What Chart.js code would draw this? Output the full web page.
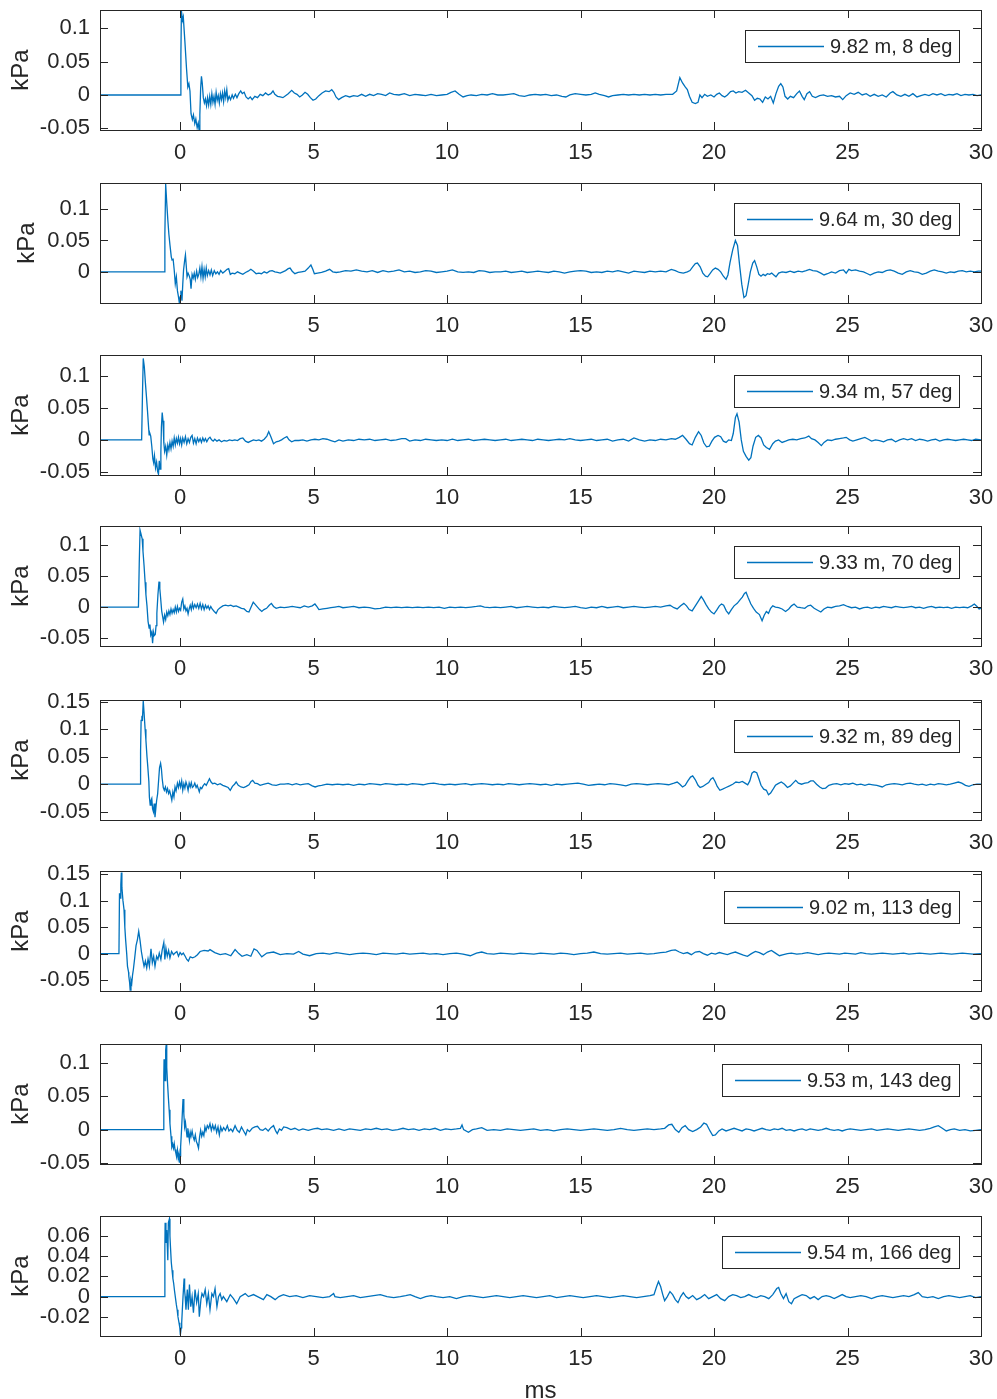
<!DOCTYPE html>
<html>
<head>
<meta charset="utf-8">
<title>Pressure traces</title>
<script src="https://cdn.jsdelivr.net/npm/chart.js@4.4.1/dist/chart.umd.min.js"></script>
<style>
  html, body { margin: 0; padding: 0; background: #fff; }
  body { position: relative; width: 997px; height: 1399px; overflow: hidden; }
  canvas { position: absolute; left: 0; }
</style>
</head>
<body>
<script>
// sensor names (distance, angle)
const sensorLabels = ['9.82 m, 8 deg', '9.64 m, 30 deg', '9.34 m, 57 deg', '9.33 m, 70 deg',
  '9.32 m, 89 deg', '9.02 m, 113 deg', '9.53 m, 143 deg', '9.54 m, 166 deg'];

const xTicks = [0, 5, 10, 15, 20, 25, 30];
const xRange = [-3, 30];

const yTicks = [
  [-0.05, 0, 0.05, 0.1],
  [0, 0.05, 0.1],
  [-0.05, 0, 0.05, 0.1],
  [-0.05, 0, 0.05, 0.1],
  [-0.05, 0, 0.05, 0.1, 0.15],
  [-0.05, 0, 0.05, 0.1, 0.15],
  [-0.05, 0, 0.05, 0.1],
  [-0.02, 0, 0.02, 0.04, 0.06]
];
const yLimits = [
  [-0.0525, 0.1274], [-0.0497, 0.1417], [-0.0552, 0.1334], [-0.0627, 0.1307],
  [-0.065, 0.153], [-0.0706, 0.156], [-0.0518, 0.129], [-0.039, 0.0798]
];

// [ms, kPa]
const p8deg = [
  [-3,0],[0,0],[0.03,0.06],[0.05,0.126],[0.09,0.112],[0.12,0.117],[0.18,0.08],[0.24,0.04],[0.29,0.012],[0.33,0.017],
  [0.37,0.006],[0.41,-0.028],[0.46,-0.037],[0.5,-0.03],[0.55,-0.043],[0.59,-0.036],[0.64,-0.049],[0.68,-0.042],[0.71,-0.052],[0.74,-0.03],
  [0.77,0.01],[0.8,0.028],[0.83,0.018],[0.87,-0.004],[0.91,-0.012],[0.95,-0.006],[0.99,-0.016],[1.03,-0.004],[1.07,-0.015],[1.11,-0.002],
  [1.15,-0.014],[1.19,0.002],[1.23,-0.011],[1.27,-0.002],[1.31,-0.014],[1.35,0.004],[1.39,-0.008],[1.43,-0.001],[1.47,-0.012],[1.51,0.002],
  [1.55,-0.007],[1.59,0.003],[1.63,-0.01],[1.67,0.006],[1.71,-0.004],[1.75,0.008],[1.79,-0.008],[1.84,-0.002],[1.89,-0.007],[1.95,0],
  [2,-0.005],[2.07,0.001],[2.13,-0.004],[2.2,0.002],[2.27,0.006],[2.33,0.002],[2.4,0.004],[2.47,-0.003],[2.55,-0.006],[2.63,-0.003],
  [2.7,-0.007],[2.8,-0.002],[2.9,-0.004],[3,0.001],[3.1,-0.001],[3.2,0.003],[3.3,0],[3.4,0.002],[3.48,0.006],[3.55,0.001],
  [3.65,-0.002],[3.75,-0.003],[3.85,-0.004],[3.95,-0.001],[4.05,0.002],[4.18,0.007],[4.28,0.003],[4.38,0.001],[4.48,-0.003],[4.58,0],
  [4.68,0.004],[4.78,0.001],[4.88,-0.004],[4.98,-0.008],[5.08,-0.006],[5.2,-0.001],[5.32,0.003],[5.45,0.006],[5.58,0.005],[5.68,0.008],
  [5.76,0.004],[5.84,-0.003],[5.94,-0.007],[6.05,-0.004],[6.2,-0.001],[6.35,-0.003],[6.5,-0.001],[6.65,-0.002],[6.8,0.001],[6.95,-0.002],
  [7.1,0.001],[7.25,-0.001],[7.4,0.002],[7.55,0.001],[7.7,-0.001],[7.85,0.003],[8,0.001],[8.2,0],[8.4,0.002],[8.6,-0.001],
  [8.8,0.001],[9,0],[9.2,-0.001],[9.4,0.001],[9.6,-0.001],[9.8,0],[10,0.001],[10.15,0.004],[10.3,0.006],[10.45,0.001],
  [10.6,-0.003],[10.75,-0.001],[10.9,0],[11.1,-0.001],[11.3,0.001],[11.5,0],[11.7,0.002],[11.9,0],[12.1,0],[12.3,0.001],
  [12.5,0.002],[12.7,-0.001],[12.9,-0.002],[13.1,0],[13.3,0.001],[13.5,0],[13.7,0.001],[13.9,-0.001],[14.1,0],[14.3,-0.002],
  [14.45,-0.003],[14.6,0],[14.8,0.002],[15,0.001],[15.2,0],[15.4,0.001],[15.55,0.003],[15.7,0.001],[15.9,-0.001],[16.05,-0.003],
  [16.2,-0.001],[16.4,0],[16.6,0.001],[16.8,0],[17,0.001],[17.2,0],[17.4,0.001],[17.6,0],[17.8,0.001],[18,0],
  [18.2,0.001],[18.45,0.001],[18.6,0.006],[18.72,0.026],[18.82,0.018],[18.92,0.012],[19,0.008],[19.08,-0.002],[19.18,-0.011],[19.3,-0.013],
  [19.4,-0.011],[19.47,0],[19.55,-0.004],[19.65,0.001],[19.75,-0.002],[19.88,0],[20,-0.003],[20.1,0.001],[20.2,0.003],[20.3,-0.001],
  [20.4,-0.003],[20.5,0],[20.62,0.005],[20.72,0.006],[20.82,0.003],[20.92,0.005],[21.05,0.004],[21.18,0.007],[21.3,0.003],[21.42,-0.001],
  [21.52,-0.008],[21.62,-0.005],[21.72,-0.006],[21.82,-0.011],[21.92,-0.003],[22.02,-0.006],[22.12,-0.002],[22.22,-0.012],[22.32,0.002],[22.42,0.013],
  [22.5,0.017],[22.58,0.012],[22.66,-0.002],[22.76,-0.006],[22.86,-0.002],[22.98,-0.004],[23.1,0.002],[23.2,0.006],[23.3,-0.002],[23.38,-0.007],
  [23.48,0.002],[23.58,0.005],[23.68,-0.002],[23.8,-0.004],[23.95,-0.001],[24.1,0],[24.25,-0.002],[24.4,-0.001],[24.55,-0.003],[24.7,-0.002],
  [24.82,-0.007],[24.95,-0.001],[25.1,0.003],[25.25,0.001],[25.4,0.004],[25.55,0],[25.7,0.002],[25.85,-0.002],[26,0.001],[26.15,-0.002],
  [26.3,0],[26.45,-0.003],[26.6,0.003],[26.7,0.005],[26.85,0],[27,-0.002],[27.15,0.001],[27.3,-0.002],[27.45,0.002],[27.6,-0.003],
  [27.75,-0.001],[27.9,0.001],[28.05,-0.001],[28.2,0.002],[28.35,0],[28.5,0.002],[28.65,-0.001],[28.8,0.001],[28.95,0],[29.1,0.002],
  [29.25,-0.001],[29.4,0.001],[29.55,0],[29.7,0.001],[29.85,-0.001],[30,0]
];

const p30deg = [
  [-3,0],[-0.6,0],[-0.57,0.06],[-0.54,0.14],[-0.5,0.11],[-0.46,0.083],[-0.42,0.06],[-0.38,0.043],[-0.33,0.024],[-0.3,0.019],
  [-0.26,0.02],[-0.22,0.003],[-0.18,-0.019],[-0.14,-0.008],[-0.1,-0.03],[-0.06,-0.04],[-0.03,-0.049],[0,-0.04],[0.03,-0.03],[0.07,-0.046],
  [0.1,-0.02],[0.13,0.003],[0.17,0.018],[0.2,0.027],[0.23,0.01],[0.26,-0.008],[0.3,-0.002],[0.34,-0.006],[0.38,-0.012],[0.41,-0.027],
  [0.45,-0.004],[0.49,-0.01],[0.53,-0.002],[0.57,-0.012],[0.62,0.001],[0.66,-0.009],[0.7,-0.004],[0.74,0.006],[0.78,-0.008],[0.82,0.008],
  [0.86,-0.01],[0.9,0.004],[0.94,-0.008],[0.98,0.006],[1.02,-0.006],[1.07,0.002],[1.12,-0.005],[1.17,0.003],[1.22,-0.006],[1.28,0.002],
  [1.34,-0.003],[1.4,0],[1.46,-0.004],[1.52,0.002],[1.6,-0.002],[1.68,0.001],[1.76,0.004],[1.82,0.005],[1.88,-0.004],[1.95,-0.002],
  [2.05,-0.003],[2.15,0],[2.25,-0.002],[2.35,-0.004],[2.45,-0.001],[2.55,0.001],[2.65,0.004],[2.75,0.001],[2.85,-0.003],[2.95,-0.002],
  [3.05,-0.003],[3.15,0],[3.25,-0.002],[3.35,0.001],[3.45,0.002],[3.55,0],[3.65,-0.001],[3.75,-0.002],[3.85,0],[3.95,0.002],
  [4.05,0.005],[4.12,0.006],[4.2,0.001],[4.3,-0.003],[4.42,-0.001],[4.55,0],[4.68,0.001],[4.8,0.006],[4.9,0.011],[4.97,0.004],
  [5.03,-0.003],[5.15,-0.002],[5.3,-0.001],[5.45,0.001],[5.6,0.004],[5.72,0],[5.85,-0.001],[6,0],[6.2,0.002],[6.4,0.001],
  [6.6,0.003],[6.8,0.001],[7,0],[7.2,0.002],[7.4,-0.001],[7.6,0.002],[7.8,0],[8,0.001],[8.2,0.003],[8.4,0],
  [8.6,0.001],[8.8,-0.001],[9,0],[9.2,0.002],[9.4,0.001],[9.6,-0.001],[9.8,0],[10,0.001],[10.2,0.003],[10.4,0],
  [10.6,-0.001],[10.8,0],[11,-0.001],[11.2,0.002],[11.4,0.001],[11.6,-0.001],[11.8,0],[12,0],[12.2,0.001],[12.4,-0.001],
  [12.6,0],[12.8,0.001],[13,-0.001],[13.2,0],[13.4,0.001],[13.6,0],[13.8,-0.001],[14,0.001],[14.2,0],[14.4,-0.002],
  [14.6,0],[14.8,0.001],[15,0.002],[15.2,0.001],[15.4,-0.001],[15.6,0],[15.8,-0.001],[16,0.001],[16.2,0],[16.4,0.002],
  [16.6,0],[16.8,-0.002],[17,0.001],[17.2,0],[17.4,-0.001],[17.6,0.001],[17.8,0],[18,0.001],[18.2,0],[18.4,0.004],
  [18.55,0.002],[18.7,-0.001],[18.85,-0.002],[19,0],[19.1,0.002],[19.2,0.008],[19.3,0.013],[19.38,0.014],[19.48,0.008],[19.58,-0.002],
  [19.68,-0.007],[19.76,-0.008],[19.85,-0.003],[19.95,0.003],[20.05,0.006],[20.15,0.004],[20.25,0],[20.35,-0.007],[20.45,-0.012],[20.52,-0.005],
  [20.6,0.015],[20.7,0.035],[20.8,0.05],[20.88,0.042],[20.96,0.01],[21.04,-0.02],[21.12,-0.041],[21.2,-0.038],[21.28,-0.02],[21.36,0],
  [21.45,0.014],[21.52,0.018],[21.6,0.008],[21.68,-0.004],[21.76,-0.007],[21.84,-0.004],[21.92,-0.006],[22,-0.003],[22.08,-0.004],[22.16,-0.002],
  [22.24,-0.005],[22.32,-0.008],[22.42,-0.002],[22.55,0],[22.7,-0.001],[22.85,0.001],[23,-0.001],[23.15,0.001],[23.3,0],[23.45,0.002],
  [23.58,0.004],[23.7,0.002],[23.85,0.001],[24,-0.002],[24.12,-0.005],[24.25,-0.003],[24.4,0],[24.55,-0.002],[24.7,0.002],[24.85,0.003],
  [24.95,-0.002],[25.05,0.004],[25.15,0.002],[25.3,0.003],[25.45,0.001],[25.6,0],[25.75,-0.003],[25.85,-0.005],[26,-0.002],[26.15,0],
  [26.3,-0.001],[26.45,0.002],[26.6,0.003],[26.75,0.001],[26.9,-0.002],[27.05,-0.004],[27.2,0],[27.35,0.002],[27.5,0],[27.65,-0.001],
  [27.8,-0.004],[27.95,-0.002],[28.1,0.001],[28.25,0.003],[28.4,0.001],[28.55,0],[28.7,-0.002],[28.85,0],[29,-0.001],[29.15,0.001],
  [29.3,0.002],[29.45,0],[29.6,0.001],[29.75,0],[29.9,0.001],[30,0.001]
];

const p57deg = [
  [-3,0],[-1.44,0],[-1.41,0.07],[-1.38,0.128],[-1.34,0.115],[-1.3,0.09],[-1.26,0.068],[-1.22,0.045],[-1.19,0.026],[-1.16,0.008],
  [-1.13,0.01],[-1.1,0.006],[-1.06,-0.01],[-1.02,-0.03],[-0.99,-0.036],[-0.96,-0.025],[-0.92,-0.044],[-0.88,-0.035],[-0.84,-0.05],[-0.81,-0.054],
  [-0.78,-0.033],[-0.75,-0.046],[-0.72,-0.02],[-0.7,0.02],[-0.67,0.043],[-0.64,0.03],[-0.61,-0.004],[-0.58,-0.018],[-0.54,-0.01],[-0.5,-0.024],
  [-0.46,-0.008],[-0.42,-0.016],[-0.38,-0.004],[-0.34,-0.014],[-0.3,-0.002],[-0.26,-0.01],[-0.22,0.003],[-0.18,-0.008],[-0.14,0.002],[-0.1,-0.005],
  [-0.06,0.004],[-0.02,-0.006],[0.02,0.002],[0.06,-0.008],[0.1,0.003],[0.15,-0.004],[0.2,0.005],[0.25,-0.006],[0.3,0.002],[0.35,-0.004],
  [0.4,0.004],[0.45,0.007],[0.5,-0.005],[0.55,0.002],[0.6,-0.006],[0.65,0.003],[0.7,-0.003],[0.75,0.002],[0.8,-0.004],[0.85,0.003],
  [0.9,-0.002],[0.95,0.002],[1,-0.003],[1.06,0.002],[1.12,0.004],[1.18,0],[1.24,-0.002],[1.3,0.001],[1.38,-0.002],[1.46,0],
  [1.55,-0.003],[1.65,-0.001],[1.75,-0.002],[1.85,0],[1.95,-0.001],[2.05,0],[2.15,-0.001],[2.25,0.002],[2.35,0.003],[2.45,-0.002],
  [2.55,-0.004],[2.65,-0.002],[2.75,0],[2.85,-0.001],[2.95,0],[3.05,-0.002],[3.15,0.001],[3.25,0.006],[3.32,0.013],[3.4,0.005],
  [3.5,-0.006],[3.6,-0.003],[3.7,-0.002],[3.8,0],[3.9,0.003],[4,0.005],[4.08,0],[4.18,-0.003],[4.3,-0.001],[4.45,-0.001],
  [4.6,0],[4.75,-0.002],[4.9,0],[5.05,0.001],[5.2,0],[5.35,0.002],[5.5,0.001],[5.65,-0.001],[5.8,-0.003],[5.95,0],
  [6.1,-0.002],[6.3,0],[6.5,-0.001],[6.7,0.001],[6.9,0],[7.1,0.001],[7.3,-0.001],[7.5,0],[7.7,0.001],[7.9,-0.001],
  [8.1,0],[8.3,0.002],[8.45,0.002],[8.6,-0.002],[8.8,0],[9,-0.001],[9.2,0.001],[9.4,0],[9.6,-0.001],[9.8,0],
  [10,-0.001],[10.2,0.001],[10.4,-0.001],[10.6,0],[10.8,0.001],[11,-0.001],[11.2,0],[11.4,0.001],[11.6,0],[11.8,-0.001],
  [12,0],[12.2,0.001],[12.4,-0.001],[12.6,0],[12.8,0.001],[13,0],[13.2,-0.001],[13.4,0.001],[13.6,0],[13.8,-0.001],
  [14,0],[14.2,0.001],[14.4,0],[14.6,0.002],[14.8,0],[15,-0.001],[15.2,0],[15.4,0.001],[15.6,-0.001],[15.8,0],
  [16,0.001],[16.2,-0.002],[16.4,0],[16.6,0.001],[16.8,-0.002],[17,0.003],[17.2,0],[17.4,-0.002],[17.6,0],[17.8,-0.001],
  [18,0.001],[18.2,0],[18.4,0.002],[18.55,0.001],[18.7,0.004],[18.82,0.007],[18.95,0.001],[19.08,-0.006],[19.18,-0.008],[19.3,0.004],
  [19.42,0.013],[19.52,0.007],[19.62,-0.005],[19.72,-0.011],[19.82,-0.01],[19.92,-0.002],[20.02,0.004],[20.15,0.007],[20.25,0.005],[20.35,-0.002],
  [20.45,-0.004],[20.55,0],[20.65,-0.001],[20.72,0.01],[20.8,0.035],[20.86,0.041],[20.94,0.028],[21.02,0],[21.1,-0.018],[21.2,-0.026],
  [21.3,-0.032],[21.38,-0.028],[21.46,-0.01],[21.56,0.004],[21.66,0.007],[21.76,0.003],[21.86,-0.008],[21.96,-0.012],[22.08,-0.015],[22.2,-0.006],
  [22.3,-0.002],[22.42,0],[22.55,-0.004],[22.68,-0.002],[22.8,0],[22.95,0.001],[23.1,0],[23.25,0.002],[23.4,0.003],[23.55,0.006],
  [23.65,0.002],[23.78,0],[23.9,-0.004],[24.02,-0.009],[24.12,-0.004],[24.25,0],[24.4,-0.001],[24.55,0.001],[24.7,0.002],[24.85,0.003],
  [24.95,0.004],[25.08,0],[25.2,-0.002],[25.35,0],[25.5,0.002],[25.65,0.004],[25.78,0.001],[25.9,-0.002],[26.05,0],[26.2,-0.001],
  [26.35,-0.003],[26.5,0],[26.65,0.001],[26.8,-0.003],[26.95,0],[27.1,0.002],[27.25,0],[27.4,0.002],[27.55,-0.001],[27.7,0.001],
  [27.85,0],[28,-0.002],[28.15,0],[28.3,0.001],[28.45,-0.002],[28.6,0],[28.75,0.001],[28.9,0],[29.05,-0.001],[29.2,0],
  [29.35,0.001],[29.5,0],[29.65,-0.001],[29.8,0.001],[30,0]
];

const p70deg = [
  [-3,0],[-1.56,0],[-1.53,0.07],[-1.5,0.124],[-1.46,0.117],[-1.42,0.11],[-1.39,0.09],[-1.35,0.067],[-1.31,0.04],[-1.28,0.02],
  [-1.24,0.002],[-1.2,-0.023],[-1.16,-0.034],[-1.13,-0.028],[-1.1,-0.045],[-1.06,-0.04],[-1.03,-0.058],[-1,-0.04],[-0.97,-0.046],[-0.93,-0.044],
  [-0.9,-0.03],[-0.87,-0.01],[-0.83,0.02],[-0.79,0.041],[-0.76,0.03],[-0.73,0.015],[-0.69,-0.006],[-0.65,-0.016],[-0.62,-0.024],[-0.58,-0.013],
  [-0.54,-0.02],[-0.5,-0.008],[-0.46,-0.014],[-0.42,-0.006],[-0.38,-0.012],[-0.34,-0.003],[-0.3,-0.01],[-0.26,-0.004],[-0.22,-0.009],[-0.18,0],
  [-0.14,-0.008],[-0.1,0.001],[-0.06,-0.007],[-0.02,-0.002],[0.02,-0.005],[0.06,0.008],[0.1,0.013],[0.14,-0.003],[0.18,0.002],[0.22,-0.006],
  [0.26,-0.002],[0.3,-0.011],[0.34,-0.003],[0.38,0.003],[0.42,-0.004],[0.46,0.006],[0.5,-0.002],[0.55,0.004],[0.6,-0.001],[0.65,0.005],
  [0.7,-0.002],[0.75,0.006],[0.8,-0.003],[0.85,0.004],[0.9,-0.004],[0.95,0.003],[1,-0.002],[1.05,0.002],[1.1,-0.004],[1.15,0.001],
  [1.2,-0.003],[1.28,-0.007],[1.35,-0.01],[1.42,-0.004],[1.5,-0.001],[1.6,0.002],[1.7,0.003],[1.8,0.002],[1.9,0.003],[2,0.001],
  [2.1,0.002],[2.2,0],[2.3,-0.002],[2.4,-0.003],[2.5,-0.007],[2.58,-0.008],[2.66,0],[2.74,0.008],[2.82,0.004],[2.9,0],
  [2.98,-0.004],[3.06,-0.007],[3.14,-0.004],[3.24,-0.002],[3.34,0.003],[3.42,0.006],[3.5,0.001],[3.6,-0.002],[3.75,0],[3.9,-0.001],
  [4.05,0],[4.2,0.001],[4.35,0],[4.5,-0.001],[4.65,0.002],[4.8,0],[4.95,0.002],[5.05,0.005],[5.12,0.001],[5.2,-0.004],
  [5.35,-0.003],[5.5,-0.002],[5.65,-0.001],[5.8,0],[5.95,0.001],[6.1,-0.001],[6.3,0],[6.5,0.001],[6.7,-0.001],[6.9,0],
  [7.1,-0.001],[7.3,-0.003],[7.5,-0.002],[7.7,0],[7.9,-0.001],[8.1,0],[8.3,-0.001],[8.5,0],[8.7,-0.001],[8.9,0],
  [9.1,-0.001],[9.3,0],[9.5,-0.001],[9.7,0],[9.9,-0.002],[10.1,0],[10.3,-0.001],[10.5,0],[10.7,-0.001],[10.9,0],
  [11.1,0.001],[11.25,0.002],[11.4,0],[11.6,-0.001],[11.8,0],[12,-0.001],[12.2,0],[12.4,0.001],[12.6,-0.001],[12.8,0],
  [13,0.001],[13.2,0],[13.4,-0.001],[13.6,0],[13.8,-0.001],[14,0.001],[14.2,0],[14.4,-0.001],[14.6,0],[14.8,0.001],
  [15,-0.001],[15.2,-0.002],[15.4,0],[15.6,-0.001],[15.8,0.001],[16,-0.001],[16.2,0],[16.4,0.001],[16.6,-0.001],[16.8,0],
  [17,0.001],[17.2,0],[17.4,-0.001],[17.6,0],[17.8,0.001],[18,0],[18.2,0.002],[18.35,0.003],[18.5,-0.001],[18.62,-0.003],
  [18.75,0.002],[18.87,0.006],[18.97,0.002],[19.07,-0.004],[19.18,-0.006],[19.3,0.002],[19.42,0.01],[19.52,0.017],[19.6,0.012],[19.7,0.004],
  [19.8,-0.003],[19.9,-0.008],[20,-0.011],[20.1,-0.005],[20.2,0.002],[20.28,0.005],[20.36,0.003],[20.46,-0.006],[20.55,-0.011],[20.65,-0.004],
  [20.75,0.002],[20.87,0.006],[20.98,0.012],[21.06,0.016],[21.14,0.022],[21.2,0.024],[21.28,0.015],[21.38,0.005],[21.48,-0.002],[21.58,-0.008],
  [21.7,-0.012],[21.8,-0.022],[21.88,-0.013],[21.96,-0.007],[22.04,-0.01],[22.12,-0.002],[22.2,0.002],[22.3,0],[22.42,-0.001],[22.55,-0.003],
  [22.68,-0.007],[22.8,-0.003],[22.9,0.002],[23,0.005],[23.12,0],[23.25,-0.001],[23.4,-0.002],[23.52,0.002],[23.62,0.003],[23.75,-0.002],
  [23.88,-0.005],[24,-0.008],[24.12,-0.003],[24.25,0],[24.4,-0.001],[24.55,0.001],[24.7,0.002],[24.85,0.004],[25,0.001],[25.15,-0.001],
  [25.3,0],[25.45,-0.003],[25.6,-0.001],[25.75,0],[25.9,-0.002],[26.05,0],[26.2,-0.001],[26.35,0.001],[26.5,0],[26.65,-0.001],
  [26.8,0.001],[26.95,0],[27.1,-0.001],[27.25,0],[27.4,0.001],[27.55,-0.001],[27.7,0],[27.85,-0.002],[28,0],[28.15,0.001],
  [28.3,-0.001],[28.45,0],[28.6,-0.001],[28.75,0],[28.9,-0.002],[29.05,0],[29.2,-0.001],[29.35,0],[29.5,-0.001],[29.65,0.002],
  [29.75,0.005],[29.85,0.001],[29.93,-0.003],[30,-0.002]
];

const p89deg = [
  [-3,0],[-1.5,0],[-1.48,0.06],[-1.46,0.116],[-1.43,0.12],[-1.41,0.118],[-1.38,0.151],[-1.35,0.13],[-1.31,0.1],[-1.28,0.08],
  [-1.24,0.05],[-1.21,0.032],[-1.17,0.005],[-1.15,-0.023],[-1.12,-0.038],[-1.09,-0.03],[-1.06,-0.026],[-1.03,-0.045],[-1,-0.05],[-0.97,-0.035],
  [-0.94,-0.06],[-0.91,-0.045],[-0.88,-0.03],[-0.84,-0.017],[-0.8,0.01],[-0.77,0.03],[-0.73,0.038],[-0.7,0.028],[-0.67,0.01],[-0.63,-0.006],
  [-0.59,-0.011],[-0.55,-0.005],[-0.51,-0.014],[-0.47,-0.008],[-0.43,-0.017],[-0.39,-0.012],[-0.35,-0.02],[-0.31,-0.029],[-0.27,-0.014],[-0.23,-0.023],
  [-0.19,-0.005],[-0.15,-0.012],[-0.1,0.002],[-0.06,-0.006],[-0.02,0.004],[0.02,-0.005],[0.06,0.006],[0.1,-0.011],[0.14,0.001],[0.18,-0.007],
  [0.22,0.004],[0.26,-0.002],[0.3,-0.011],[0.34,0.002],[0.38,-0.005],[0.42,0.003],[0.46,-0.006],[0.5,-0.004],[0.55,0.002],[0.6,-0.006],
  [0.64,-0.002],[0.68,-0.008],[0.72,-0.014],[0.76,-0.006],[0.81,-0.008],[0.86,-0.003],[0.92,0.001],[0.98,-0.002],[1.04,0.004],[1.1,0.01],
  [1.16,0.004],[1.22,0.001],[1.3,0.002],[1.4,-0.001],[1.5,0.001],[1.6,-0.002],[1.7,-0.004],[1.8,-0.006],[1.88,-0.011],[1.96,-0.004],
  [2.04,0],[2.1,0.004],[2.18,-0.002],[2.28,-0.005],[2.38,-0.006],[2.48,-0.004],[2.58,-0.001],[2.66,0.005],[2.72,0.007],[2.8,0.002],
  [2.9,0.001],[3,-0.002],[3.15,0],[3.3,0.002],[3.45,-0.001],[3.6,-0.002],[3.75,0],[3.9,0],[4.05,0.001],[4.2,-0.001],
  [4.35,0.001],[4.5,-0.001],[4.65,0],[4.8,0.001],[4.95,-0.003],[5.06,-0.005],[5.18,-0.003],[5.3,-0.002],[5.5,0],[5.7,-0.001],
  [5.9,0],[6.1,-0.001],[6.3,0],[6.5,-0.002],[6.7,0],[6.9,-0.001],[7.1,0.001],[7.3,0],[7.5,-0.001],[7.7,0.001],
  [7.9,0],[8.1,-0.001],[8.3,0],[8.5,-0.001],[8.7,0.001],[8.9,0],[9.1,-0.001],[9.3,0.001],[9.5,0.002],[9.7,0],
  [9.9,-0.001],[10.1,0],[10.3,-0.001],[10.5,0],[10.7,0.001],[10.9,-0.001],[11.1,0],[11.3,0.001],[11.5,0],[11.7,-0.001],
  [11.9,0],[12.1,-0.001],[12.3,0.001],[12.5,0],[12.7,-0.001],[12.9,0],[13.1,0.001],[13.3,0],[13.5,-0.001],[13.7,0],
  [13.9,-0.002],[14.1,0],[14.3,-0.001],[14.5,0],[14.7,0.001],[14.9,0.002],[15.1,0],[15.3,-0.002],[15.5,-0.001],[15.7,0],
  [15.9,-0.001],[16.1,0.001],[16.3,0],[16.5,-0.001],[16.7,-0.003],[16.9,0],[17.1,0.001],[17.3,0],[17.5,-0.001],[17.7,0],
  [17.9,0.001],[18.1,0],[18.3,-0.001],[18.5,0.002],[18.62,0.004],[18.72,0],[18.82,-0.005],[18.92,-0.002],[19.02,0.006],[19.12,0.013],
  [19.2,0.015],[19.3,0.008],[19.4,-0.002],[19.48,-0.006],[19.58,-0.004],[19.7,0],[19.8,0.003],[19.88,0.009],[19.96,0.012],[20.04,0.005],
  [20.12,-0.004],[20.22,-0.011],[20.32,-0.009],[20.45,-0.006],[20.58,-0.003],[20.7,0],[20.82,0.004],[20.94,0.003],[21.06,0.005],[21.16,0.002],
  [21.26,-0.001],[21.34,0.006],[21.42,0.02],[21.5,0.023],[21.6,0.021],[21.68,0.01],[21.76,-0.002],[21.86,-0.009],[21.96,-0.011],[22.04,-0.019],
  [22.12,-0.016],[22.2,-0.01],[22.3,-0.002],[22.4,0.001],[22.52,0.004],[22.64,0],[22.75,-0.006],[22.86,-0.003],[22.96,0.002],[23.06,0.007],
  [23.16,0.002],[23.28,0],[23.4,0.002],[23.52,0.003],[23.62,0.006],[23.72,0.006],[23.84,0],[23.96,-0.005],[24.06,-0.008],[24.18,-0.007],
  [24.3,-0.002],[24.45,0],[24.6,0.001],[24.75,-0.001],[24.9,0.001],[25.05,0],[25.2,0.002],[25.35,-0.001],[25.5,0],[25.65,-0.002],
  [25.8,0],[25.95,-0.001],[26.1,-0.002],[26.3,-0.005],[26.45,-0.001],[26.6,0],[26.75,0.001],[26.9,0],[27.05,-0.001],[27.2,0.001],
  [27.35,0.002],[27.5,0],[27.65,-0.001],[27.8,0],[27.95,-0.002],[28.1,0],[28.25,-0.001],[28.4,0.001],[28.55,0],[28.7,-0.001],
  [28.85,0],[29,0.002],[29.15,0.004],[29.28,0.002],[29.42,-0.002],[29.55,-0.004],[29.7,-0.001],[29.85,0],[30,0]
];

const p113deg = [
  [-3,0],[-2.29,0],[-2.27,0.114],[-2.24,0.105],[-2.22,0.13],[-2.2,0.153],[-2.18,0.125],[-2.14,0.1],[-2.1,0.083],[-2.07,0.05],
  [-2.04,0.026],[-2,0],[-1.97,-0.024],[-1.93,-0.035],[-1.92,-0.043],[-1.89,-0.055],[-1.87,-0.069],[-1.84,-0.05],[-1.81,-0.056],[-1.78,-0.04],
  [-1.75,-0.03],[-1.7,-0.008],[-1.65,0.015],[-1.6,0.026],[-1.55,0.042],[-1.5,0.025],[-1.45,0.004],[-1.4,-0.011],[-1.35,-0.024],[-1.3,-0.014],
  [-1.25,-0.027],[-1.2,-0.01],[-1.15,-0.024],[-1.09,0.009],[-1.04,-0.017],[-0.99,-0.005],[-0.94,-0.024],[-0.88,-0.005],[-0.83,-0.011],[-0.78,0.001],
  [-0.72,-0.011],[-0.67,0.007],[-0.61,0.021],[-0.57,-0.011],[-0.53,0.01],[-0.48,-0.005],[-0.43,0.006],[-0.38,-0.008],[-0.32,0.004],[-0.25,-0.002],
  [-0.19,0.001],[-0.12,0.004],[-0.06,-0.005],[0,0.002],[0.06,-0.002],[0.12,0.001],[0.19,-0.005],[0.25,-0.011],[0.31,-0.014],[0.38,-0.006],
  [0.47,-0.008],[0.56,-0.006],[0.65,-0.002],[0.75,0.004],[0.9,0.006],[1.05,0.005],[1.12,0.0075],[1.3,0.002],[1.5,-0.002],[1.7,0],
  [1.9,-0.004],[2.06,0.0075],[2.2,0],[2.32,-0.005],[2.5,-0.002],[2.65,-0.005],[2.77,0.009],[2.88,0.006],[3.06,-0.006],[3.25,0.001],
  [3.5,0.003],[3.75,-0.002],[4,0],[4.25,-0.001],[4.44,0.004],[4.6,-0.001],[4.85,-0.004],[5.1,0],[5.35,0.001],[5.6,-0.001],
  [5.85,0.002],[6.1,0],[6.35,-0.002],[6.6,0],[6.85,0.001],[7.1,0],[7.35,-0.002],[7.6,0.001],[7.85,0],[8.1,-0.001],
  [8.35,0.001],[8.6,-0.001],[8.85,0],[9.1,0.001],[9.35,-0.001],[9.6,0],[9.85,-0.002],[10.1,0],[10.35,0.001],[10.6,-0.001],
  [10.87,-0.004],[11.1,0.001],[11.3,0.003],[11.5,0],[11.75,-0.001],[12,0.001],[12.25,0],[12.5,-0.001],[12.75,0.001],[13,0],
  [13.25,-0.001],[13.5,0.001],[13.75,0],[14,-0.001],[14.25,0.001],[14.5,0],[14.75,-0.002],[15,0],[15.25,0.001],[15.5,0.003],
  [15.75,0],[16,-0.001],[16.25,0],[16.5,0.001],[16.75,-0.001],[17,0],[17.25,0.001],[17.5,-0.001],[17.75,0],[18,0.002],
  [18.2,0.003],[18.4,0.006],[18.55,0.007],[18.7,0.003],[18.85,0],[19,0.002],[19.15,-0.002],[19.3,0.003],[19.45,0.004],[19.6,0],
  [19.75,-0.003],[19.9,0.001],[20.05,-0.001],[20.2,0.002],[20.35,0],[20.5,-0.002],[20.65,0.001],[20.8,0.003],[20.95,0],[21.1,-0.003],
  [21.25,-0.005],[21.4,0],[21.55,0.004],[21.7,0.002],[21.85,-0.002],[22,0.003],[22.15,0.006],[22.3,0.001],[22.45,-0.004],[22.6,-0.002],
  [22.75,0],[22.9,0.001],[23.1,-0.001],[23.3,0],[23.5,0.002],[23.7,0],[23.9,-0.002],[24.1,0],[24.3,0.001],[24.5,0],
  [24.7,-0.001],[24.9,0.001],[25.1,0],[25.3,-0.001],[25.5,0.002],[25.7,0],[25.9,-0.001],[26.1,0],[26.3,0.001],[26.5,0],
  [26.7,-0.001],[26.9,0],[27.1,0.001],[27.3,-0.001],[27.5,0],[27.7,0.001],[27.9,0],[28.1,-0.001],[28.3,0],[28.5,0.001],
  [28.7,0],[28.9,-0.001],[29.1,0],[29.3,0.001],[29.5,0],[29.7,-0.001],[30,0]
];

const p143deg = [
  [-3,0],[-0.63,0],[-0.61,0.08],[-0.6,0.106],[-0.58,0.09],[-0.56,0.074],[-0.54,0.12],[-0.52,0.128],[-0.5,0.094],[-0.47,0.07],
  [-0.44,0.049],[-0.41,0.03],[-0.38,0.009],[-0.34,-0.01],[-0.31,-0.026],[-0.28,-0.022],[-0.25,-0.028],[-0.22,-0.021],[-0.19,-0.03],[-0.16,-0.035],
  [-0.13,-0.041],[-0.1,-0.031],[-0.07,-0.043],[-0.04,-0.036],[-0.02,-0.05],[0,-0.04],[0.02,-0.026],[0.06,0.004],[0.09,0.03],[0.11,0.046],
  [0.14,0.024],[0.17,0.004],[0.2,0.011],[0.23,0],[0.26,-0.011],[0.29,0.002],[0.32,-0.006],[0.35,-0.016],[0.38,-0.004],[0.41,-0.01],
  [0.45,-0.002],[0.49,-0.011],[0.53,-0.016],[0.57,-0.008],[0.61,-0.018],[0.65,-0.022],[0.69,-0.028],[0.73,-0.011],[0.77,-0.001],[0.81,-0.01],
  [0.85,-0.004],[0.89,-0.009],[0.93,0.004],[0.97,-0.002],[1.02,0.006],[1.07,0.002],[1.12,0.009],[1.17,-0.001],[1.22,0.007],[1.27,0],
  [1.32,0.006],[1.37,-0.004],[1.42,0.004],[1.47,-0.008],[1.52,0.004],[1.57,-0.002],[1.63,0.003],[1.7,-0.001],[1.77,0.006],[1.83,-0.002],
  [1.9,0.001],[1.97,-0.003],[2.06,0.006],[2.14,-0.001],[2.22,-0.004],[2.3,0.004],[2.38,-0.002],[2.46,-0.008],[2.52,0],[2.6,-0.003],
  [2.7,0.002],[2.8,0.004],[2.9,0.005],[3,0],[3.1,-0.001],[3.2,0.002],[3.3,-0.002],[3.4,0.003],[3.5,0.006],[3.58,-0.002],
  [3.64,-0.006],[3.72,0.001],[3.8,-0.001],[3.88,0.004],[4,0.003],[4.15,0],[4.3,0.002],[4.45,-0.001],[4.6,0.001],[4.8,-0.001],
  [5,0.001],[5.15,0.002],[5.3,0],[5.5,0.001],[5.75,-0.001],[5.95,0.001],[6.15,-0.001],[6.35,0.001],[6.55,0],[6.75,-0.001],
  [6.95,0.001],[7.15,0],[7.35,0.002],[7.55,0],[7.75,0.001],[7.95,-0.001],[8.15,0],[8.35,0.002],[8.55,0],[8.75,0.001],
  [8.95,-0.001],[9.15,0.001],[9.35,0],[9.55,0.002],[9.75,-0.001],[9.95,0.001],[10.15,0],[10.35,0.001],[10.5,0.002],[10.56,0.007],
  [10.62,0],[10.8,-0.004],[10.95,0],[11.1,0.001],[11.3,0.003],[11.5,-0.001],[11.75,0],[12,-0.001],[12.25,0.001],[12.5,0],
  [12.75,-0.001],[13,0],[13.25,0.001],[13.5,-0.001],[13.75,0],[14,-0.002],[14.25,0],[14.5,0.001],[14.75,0],[15,-0.001],
  [15.25,0],[15.5,0.001],[15.75,0],[16,-0.001],[16.25,0],[16.5,0.002],[16.75,0],[17,-0.001],[17.25,0],[17.5,0.001],
  [17.75,0],[18,0.001],[18.15,0.002],[18.3,0.007],[18.42,0.008],[18.55,0],[18.68,-0.004],[18.8,0.003],[18.92,0.006],[19.05,0],
  [19.2,-0.003],[19.35,0],[19.5,0.004],[19.62,0.01],[19.72,0.008],[19.85,-0.002],[19.95,-0.009],[20.05,-0.008],[20.18,-0.002],[20.3,0.001],
  [20.45,-0.002],[20.6,0],[20.75,0.002],[20.9,0],[21.05,-0.002],[21.2,0.001],[21.35,0],[21.5,-0.002],[21.65,0],[21.8,0.002],
  [21.95,0],[22.1,-0.001],[22.25,0.001],[22.4,0],[22.55,0.002],[22.7,-0.001],[22.85,0],[23,-0.002],[23.15,0],[23.3,0.001],
  [23.45,-0.001],[23.6,0.001],[23.75,0],[23.9,-0.001],[24.05,0],[24.2,0.002],[24.35,0],[24.5,-0.001],[24.65,0],[24.8,-0.002],
  [24.95,0],[25.1,0.001],[25.3,0],[25.5,-0.001],[25.7,0],[25.9,0.001],[26.1,-0.001],[26.3,0],[26.5,0.001],[26.7,0],
  [26.9,-0.001],[27.1,0],[27.3,0.001],[27.5,0],[27.7,-0.001],[27.9,0],[28.1,0.002],[28.25,0.004],[28.4,0.006],[28.55,0.002],
  [28.7,-0.002],[28.85,0],[29,0.001],[29.2,-0.001],[29.4,0],[29.6,-0.002],[29.8,-0.001],[30,0]
];

const p166deg = [
  [-3,0],[-0.6,0],[-0.57,0.05],[-0.56,0.073],[-0.53,0.053],[-0.5,0.066],[-0.46,0.036],[-0.44,0.073],[-0.4,0.077],[-0.38,0.06],
  [-0.36,0.049],[-0.33,0.034],[-0.3,0.026],[-0.27,0.018],[-0.24,0.013],[-0.21,0.006],[-0.18,0],[-0.14,-0.008],[-0.11,-0.013],[-0.08,-0.02],
  [-0.04,-0.026],[-0.01,-0.031],[0.01,-0.038],[0.04,-0.031],[0.06,-0.026],[0.09,-0.01],[0.11,0],[0.15,0.018],[0.17,0.006],[0.19,0],
  [0.22,-0.013],[0.27,0.007],[0.31,-0.013],[0.35,0.012],[0.4,-0.01],[0.45,0],[0.5,-0.016],[0.56,0.007],[0.62,-0.006],[0.68,0.003],
  [0.72,-0.02],[0.78,-0.003],[0.82,0.003],[0.88,0],[0.94,0.007],[1,-0.007],[1.06,0.003],[1.12,-0.013],[1.19,0.003],[1.25,0],
  [1.31,0.008],[1.38,-0.01],[1.44,0],[1.5,0.003],[1.56,-0.003],[1.62,0],[1.75,-0.005],[1.88,0.002],[2,-0.002],[2.12,-0.007],
  [2.25,0],[2.44,0.003],[2.56,0],[2.75,0.002],[2.9,0],[3.12,-0.003],[3.25,0.002],[3.4,0],[3.56,-0.003],[3.7,0],
  [3.87,0.002],[4.1,0],[4.35,0.001],[4.6,-0.001],[4.85,0.001],[5.1,0],[5.35,-0.001],[5.6,0],[5.75,0.003],[5.8,0],
  [6,-0.001],[6.25,0],[6.5,0.001],[6.75,-0.001],[7,0],[7.25,0.001],[7.5,0.002],[7.75,0],[8,-0.001],[8.25,0],
  [8.45,0.001],[8.62,0.002],[8.8,0],[9,-0.002],[9.2,0],[9.4,0.001],[9.6,0],[9.85,-0.001],[10.1,0],[10.35,-0.002],
  [10.6,0],[10.85,0.001],[11.1,0],[11.35,-0.001],[11.6,0],[11.85,0.001],[12.1,0],[12.35,-0.001],[12.6,0],[12.85,0.001],
  [13.1,0],[13.35,-0.001],[13.6,0],[13.85,0.001],[14.1,-0.001],[14.35,0],[14.6,0.001],[14.85,0],[15.1,-0.001],[15.35,0],
  [15.6,0.001],[15.85,0],[16.1,-0.001],[16.35,0],[16.6,0.001],[16.85,0],[17.1,-0.001],[17.35,0],[17.6,0.001],[17.75,0.002],
  [17.85,0.01],[17.92,0.015],[18,0.01],[18.08,0.002],[18.15,-0.004],[18.25,0],[18.35,0.005],[18.45,0.002],[18.55,-0.003],[18.65,-0.006],
  [18.75,0],[18.85,0.004],[18.95,0],[19.05,-0.002],[19.2,0.001],[19.35,-0.003],[19.5,-0.001],[19.65,0.002],[19.8,-0.002],[19.95,0],
  [20.1,0.002],[20.25,-0.002],[20.4,-0.004],[20.55,0],[20.7,0.002],[20.85,0.001],[21,-0.001],[21.15,0],[21.3,0.002],[21.45,0],
  [21.6,-0.001],[21.75,0.001],[21.9,0],[22.05,-0.002],[22.2,0.002],[22.35,0.008],[22.42,0.009],[22.5,0.003],[22.6,-0.002],[22.7,0.003],
  [22.8,-0.005],[22.9,-0.007],[23,-0.002],[23.15,0],[23.3,0.002],[23.45,0.001],[23.6,-0.002],[23.75,0],[23.9,-0.003],[24.05,0],
  [24.2,0.001],[24.35,0],[24.5,-0.002],[24.65,0],[24.8,0.002],[24.95,0],[25.1,-0.001],[25.3,0],[25.5,0.001],[25.7,0],
  [25.9,-0.002],[26.1,0],[26.3,0.001],[26.5,0],[26.7,-0.001],[26.9,0],[27.1,0.001],[27.3,0],[27.5,0.002],[27.65,0.004],
  [27.8,0],[28,-0.001],[28.2,0],[28.4,-0.002],[28.6,0],[28.8,0.001],[29,0],[29.2,-0.001],[29.4,0],[29.6,0.001],
  [29.8,-0.001],[30,0]
];

const traces = [p8deg, p30deg, p57deg, p70deg, p89deg, p113deg, p143deg, p166deg];

// layout of the eight stacked axes
const panelTops = [10, 183, 355, 526, 700, 871, 1044, 1216];
const areaH = 120;
const padTop = 20;
const axisColor = '#262626';
const lineColor = '#0072BD';
const fontFamily = '"Liberation Sans", Arial, Helvetica, sans-serif';

Chart.defaults.font.family = fontFamily;
Chart.defaults.color = axisColor;

function fmt(v) {
  return String(Number(v.toFixed(4)));
}

// box round the axes, with ticks pointing inward on all four sides
const boxTicks = {
  id: 'boxTicks',
  afterDatasetsDraw(chart) {
    const { ctx, chartArea: a, scales } = chart;
    const len = 8;
    ctx.save();
    ctx.strokeStyle = axisColor;
    ctx.lineWidth = 1;
    ctx.beginPath();
    scales.x.ticks.forEach(t => {
      const px = Math.round(scales.x.getPixelForValue(t.value)) + 0.5;
      ctx.moveTo(px, a.bottom); ctx.lineTo(px, a.bottom - len);
      ctx.moveTo(px, a.top); ctx.lineTo(px, a.top + len);
    });
    scales.y.ticks.forEach(t => {
      const py = Math.round(scales.y.getPixelForValue(t.value)) + 0.5;
      ctx.moveTo(a.left, py); ctx.lineTo(a.left + len, py);
      ctx.moveTo(a.right, py); ctx.lineTo(a.right - len, py);
    });
    ctx.stroke();
    ctx.strokeRect(Math.round(a.left) + 0.5, Math.round(a.top) + 0.5,
      Math.round(a.right - a.left), Math.round(a.bottom - a.top));
    ctx.restore();
  }
};

// MATLAB-like legend box in the upper right corner
const legendBox = {
  id: 'legendBox',
  afterDatasetsDraw(chart) {
    const { ctx, chartArea: a } = chart;
    const ds = chart.data.datasets[0];
    ctx.save();
    ctx.font = '20px ' + fontFamily;
    const tw = ctx.measureText(ds.label).width;
    const h = 32;
    const w = Math.round(tw + 92);
    const right = Math.round(a.right - 22);
    const top = Math.round(a.top + 20);
    const left = right - w;
    ctx.fillStyle = '#fff';
    ctx.fillRect(left, top, w, h);
    ctx.strokeStyle = axisColor;
    ctx.lineWidth = 1;
    ctx.strokeRect(left + 0.5, top + 0.5, w, h);
    ctx.strokeStyle = ds.borderColor;
    ctx.lineWidth = 1.3;
    ctx.beginPath();
    ctx.moveTo(left + 13, top + h / 2 + 0.5);
    ctx.lineTo(left + 79, top + h / 2 + 0.5);
    ctx.stroke();
    ctx.fillStyle = axisColor;
    ctx.textAlign = 'left';
    ctx.textBaseline = 'middle';
    ctx.fillText(ds.label, left + 85, top + h / 2 + 1);
    ctx.restore();
  }
};

traces.forEach((trace, i) => {
  const last = i === traces.length - 1;
  const xAxisH = last ? 70 : 42;
  const canvas = document.createElement('canvas');
  canvas.width = 997;
  canvas.height = padTop + areaH + xAxisH;
  canvas.style.top = (panelTops[i] - padTop) + 'px';
  document.body.appendChild(canvas);

  new Chart(canvas, {
    type: 'line',
    data: {
      datasets: [{
        label: sensorLabels[i],
        data: trace.map(p => ({ x: p[0], y: p[1] })),
        borderColor: lineColor,
        borderWidth: 1.3,
        pointRadius: 0,
        tension: 0,
        fill: false
      }]
    },
    options: {
      responsive: false,
      animation: false,
      devicePixelRatio: 1,
      layout: { padding: { left: 0, right: 16, top: padTop, bottom: 0 } },
      plugins: { legend: { display: false }, tooltip: { enabled: false } },
      scales: {
        x: {
          type: 'linear',
          min: xRange[0],
          max: xRange[1],
          afterBuildTicks: s => { s.ticks = xTicks.map(v => ({ value: v })); },
          afterFit: s => {
            s.height = xAxisH;
            s.paddingLeft = 0; s.paddingRight = 0; s.paddingTop = 0; s.paddingBottom = 0;
          },
          grid: { display: false, drawTicks: false },
          border: { display: false },
          ticks: { font: { size: 22 }, color: axisColor, padding: 10, maxRotation: 0, autoSkip: false, callback: v => fmt(v) },
          title: {
            display: last,
            text: 'ms',
            font: { size: 24 },
            color: axisColor,
            padding: { top: 0, bottom: 0 }
          }
        },
        y: {
          type: 'linear',
          min: yLimits[i][0],
          max: yLimits[i][1],
          afterBuildTicks: s => { s.ticks = yTicks[i].map(v => ({ value: v })); },
          afterFit: s => {
            s.width = 100;
            s.paddingLeft = 0; s.paddingRight = 0; s.paddingTop = 0; s.paddingBottom = 0;
          },
          grid: { display: false, drawTicks: false },
          border: { display: false },
          ticks: { font: { size: 22 }, color: axisColor, padding: 10, autoSkip: false, callback: v => fmt(v) },
          title: {
            display: true,
            text: 'kPa',
            font: { size: 24 },
            color: axisColor,
            padding: { top: i === 1 ? 13 : 7, bottom: 0 }
          }
        }
      }
    },
    plugins: [boxTicks, legendBox]
  });
});
</script>
</body>
</html>
